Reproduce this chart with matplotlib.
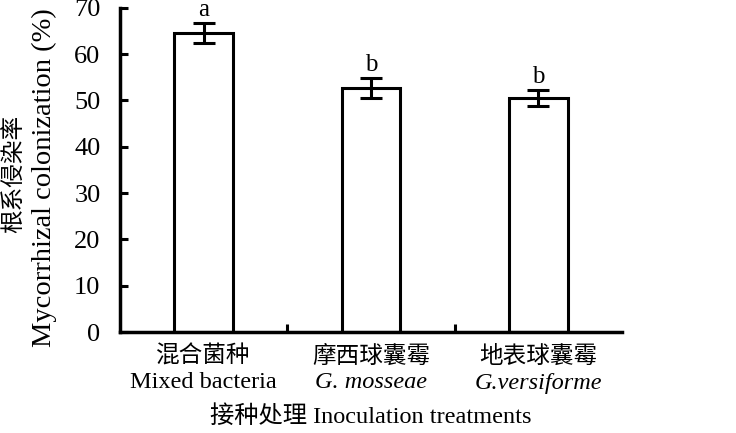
import matplotlib
matplotlib.use("Agg")
import matplotlib.pyplot as plt
from matplotlib.transforms import blended_transform_factory

categories_cn = ["混合菌种", "摩西球囊霉", "地表球囊霉"]
categories_en = ["Mixed bacteria", "G. mosseae", "G.versiforme"]
en_italic = [False, True, True]
values = [64.6, 52.7, 50.5]
errors = [2.1, 2.2, 1.8]
letters = ["a", "b", "b"]
yticks = [0, 10, 20, 30, 40, 50, 60, 70]

serif = ["Liberation Serif", "Noto Sans CJK SC"]
cjk = ["Noto Sans CJK SC", "Liberation Serif"]
plt.rcParams["font.family"] = serif

fig = plt.figure(figsize=(7.36, 4.33), dpi=100)
ax = fig.add_axes([0.163, 0.233, 0.682, 0.749])

x = list(range(len(values)))
ax.bar(x, values, width=0.35, color="white", edgecolor="black", linewidth=2.2, zorder=2)
ax.errorbar(x, values, yerr=errors, fmt="none", ecolor="black", elinewidth=2.2,
            capsize=8, capthick=2.2, zorder=3)
for xi, v, e, l in zip(x, values, errors, letters):
    ax.text(xi, v + e + 0.4, l, ha="center", va="bottom", fontsize=18, family=serif,
            clip_on=False)

ax.set_xlim(-0.5, len(values) - 0.5)
ax.set_ylim(0, 70)
ax.set_yticks(yticks)
ax.set_yticklabels([str(t) for t in yticks], fontsize=19)
ax.set_xticks([i + 0.5 for i in range(len(values) - 1)])
ax.set_xticklabels([])
ax.tick_params(axis="y", direction="in", length=6, width=2.2, pad=14)
ax.tick_params(axis="x", direction="in", length=6, width=2.2)
for s in ["top", "right"]:
    ax.spines[s].set_visible(False)
for s in ["left", "bottom"]:
    ax.spines[s].set_linewidth(2.5)

trans = blended_transform_factory(ax.transData, fig.transFigure)
for xi, cn, en, it in zip(x, categories_cn, categories_en, en_italic):
    ax.text(xi, 1 - 356 / 433, cn, transform=trans, ha="center", va="center",
            fontsize=17, family=cjk, fontweight="light")
    ax.text(xi, 1 - 383 / 433, en, transform=trans, ha="center", va="center",
            fontsize=17.5, family=serif, style="italic" if it else "normal")

fig.text(0.5 * (0.163 + 0.845), 1 - 416 / 433, "接种处理 Inoculation treatments",
         ha="center", va="center", fontsize=17.5, family=serif)
fig.text(14 / 736, 1 - 174 / 433, "根系侵染率", rotation=90, ha="center", va="center",
         fontsize=17, family=cjk, fontweight="light")
fig.text(44 / 736, 1 - 178 / 433, "Mycorrhizal colonization (%)", rotation=90,
         ha="center", va="center", fontsize=20.5, family=serif)

fig.savefig("out.png", dpi=100)
